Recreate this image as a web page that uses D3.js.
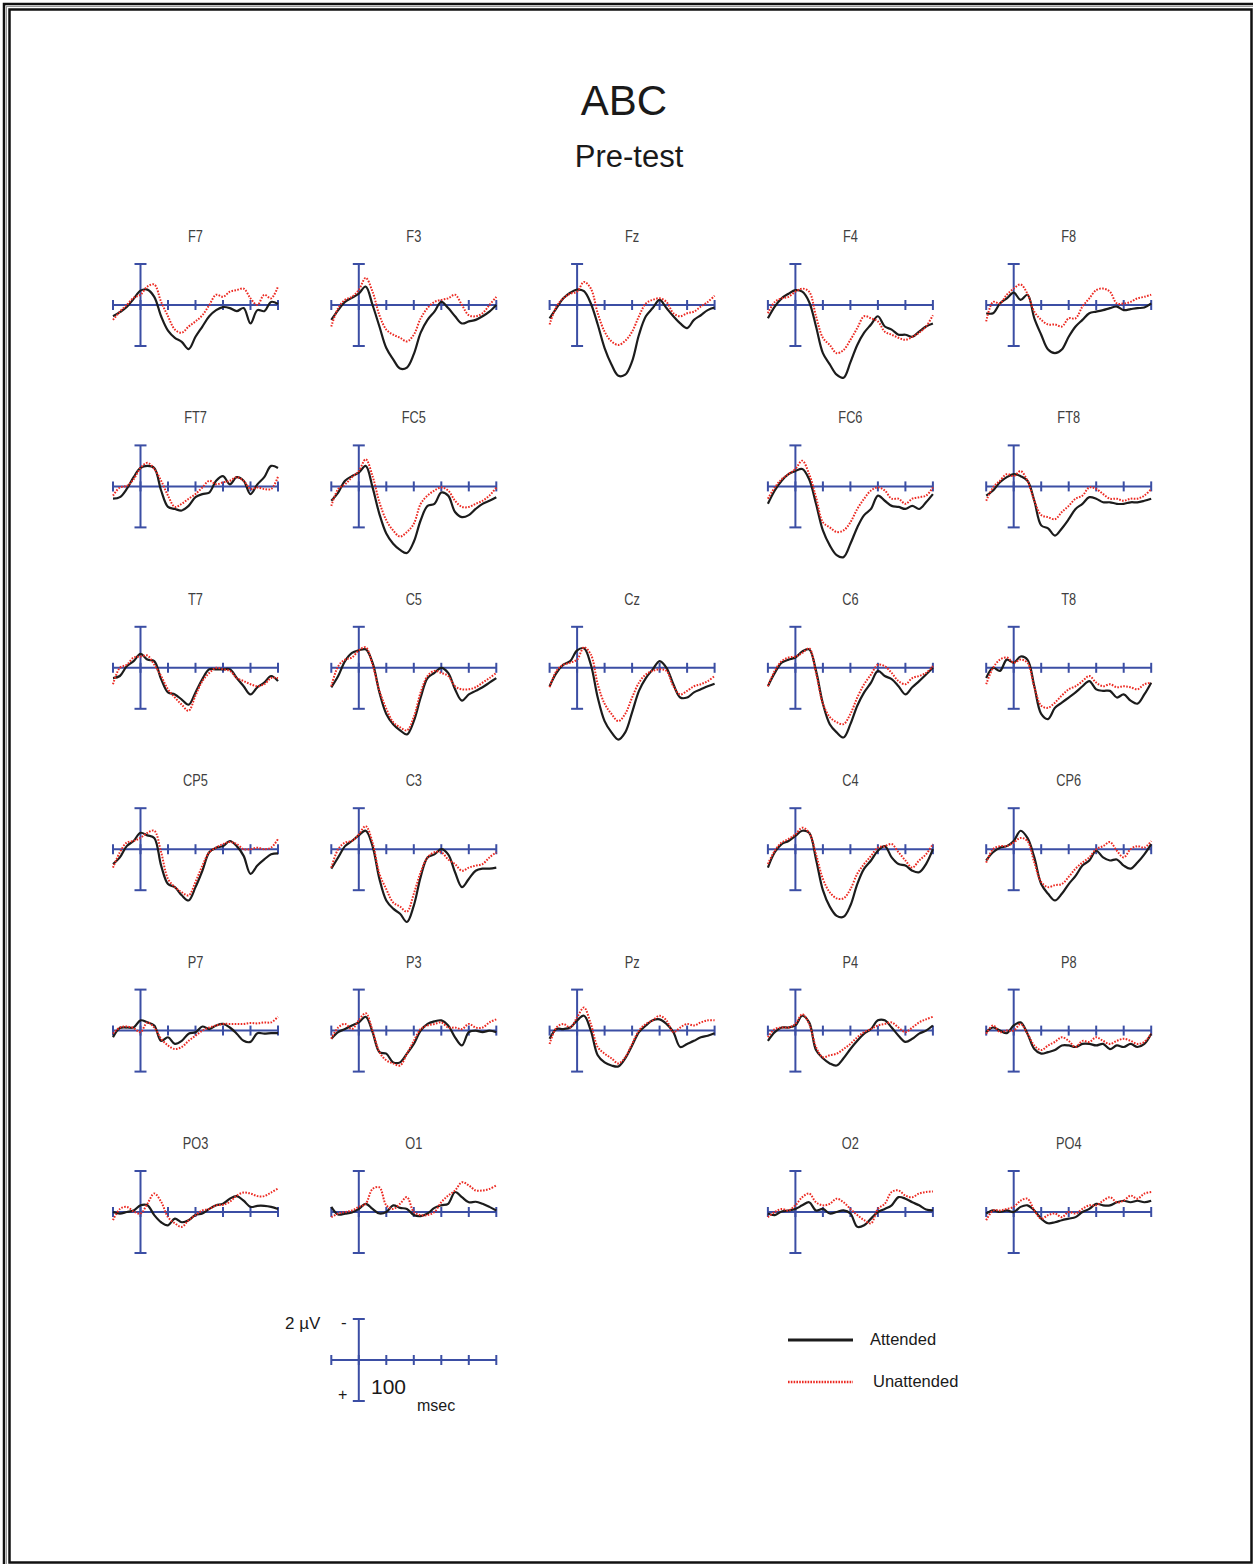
<!DOCTYPE html>
<html>
<head>
<meta charset="utf-8">
<script src="https://cdn.jsdelivr.net/npm/d3@7"></script>
<style>
  body { margin: 0; background: #fff; }
  svg { display: block; font-family: "Liberation Sans", Arial, sans-serif; }
</style>
</head>
<body>
<script>
// time points (ms), one sample every 25 ms
const times = [-100,-75,-50,-25,0,25,50,75,100,125,150,175,200,225,250,275,300,325,350,375,400,425,450,475,500];
const xTicks = [-100,0,100,200,300,400,500];

// grid layout, null = empty cell
const channelRows = [
  ["F7","F3","Fz","F4","F8"],
  ["FT7","FC5",null,"FC6","FT8"],
  ["T7","C5","Cz","C6","T8"],
  ["CP5","C3",null,"C4","CP6"],
  ["P7","P3","Pz","P4","P8"],
  ["PO3","O1",null,"O2","PO4"]
];

// amplitudes in µV (negative plotted up)
const F7_att = [1.1,0.7,0.2,-0.6,-1.4,-1.5,-0.8,1.1,2.5,3.2,3.6,4.3,3.1,2.1,1.1,0.5,0.2,0.3,0.6,0.3,1.8,0.5,0.6,-0.3,-0.1];
const F7_un  = [1.45,0.65,0,-0.7,-1.0,-1.8,-2.0,-0.3,1.1,2.4,2.7,2.1,1.6,1.0,0,-1.0,-0.8,-1.3,-1.45,-1.6,-0.65,0,-1.0,-0.65,-1.8];
const F3_att = [1.45,0.5,-0.3,-0.7,-1.1,-1.8,0,2.1,4.2,5.3,6.2,6.1,4.8,2.7,1.45,0.65,-0.3,0.3,1.1,1.8,1.6,1.45,1.1,0.65,0];
const F3_un  = [2.1,0.3,-0.5,-0.8,-1.45,-2.65,-1.3,1.0,2.4,2.9,3.2,3.55,2.9,1.3,0.3,-0.3,-0.5,-0.65,-1.0,0,1.0,1.1,0.8,0,-0.8];
const Fz_att = [1.3,0.3,-0.65,-1.2,-1.5,-1.35,-0.15,1.9,4.2,5.8,6.9,6.8,5.5,2.9,1.1,0.3,-0.5,0.3,1.1,1.8,2.25,1.45,1.0,0.5,0.25];
const Fz_un  = [1.9,0.15,-0.65,-1.1,-1.3,-2.25,-1.6,0.8,2.6,3.55,3.9,3.5,2.6,1.1,-0.15,-0.5,-0.65,-0.3,0.8,1.1,0.8,0.65,0.15,-0.3,-0.9];
const F4_att = [1.3,0.15,-0.65,-1.1,-1.45,-1.3,-0.3,2.1,4.7,5.8,6.8,7.1,5.6,3.9,2.7,1.9,1.1,2.1,2.4,2.9,2.9,3.1,2.6,2.1,1.8];
const F4_un  = [0.8,-0.3,-0.65,-0.8,-1.3,-1.6,-1.3,1.1,3.2,3.9,4.7,4.4,3.4,2.25,1.1,1.3,1.6,2.6,2.9,3.2,3.4,3.1,2.7,2.1,1.0];
const F8_att = [0.8,0.8,-0.15,-0.65,-1.2,-0.5,-1.0,1.3,2.9,4.35,4.7,4.35,3.1,2.1,1.45,0.8,0.65,0.5,0.3,0.15,0.5,0.4,0.3,0.25,-0.15];
const F8_un  = [1.6,-0.3,-0.15,-1.0,-1.6,-2.0,-1.1,0.65,1.45,1.9,1.9,2.1,1.3,1.3,0.15,-0.65,-1.45,-1.6,-1.3,-0.15,-0.15,-0.3,-0.65,-0.8,-1.0];

const FT7_att = [1.2,1.05,0.25,-0.9,-1.8,-2.0,-1.8,0.4,2.0,2.2,2.35,1.9,1.05,0.75,0.6,-0.55,-1.0,-0.2,-0.9,-0.55,0.75,-0.2,-0.9,-2.0,-1.8];
const FT7_un  = [0.9,0.1,-0.05,-0.7,-1.8,-2.3,-1.7,-0.55,0.9,2.0,1.7,1.2,0.75,0.1,-0.55,-0.2,-0.4,-0.55,-0.9,-0.55,0.25,0.1,0.25,0.25,-0.95];
const FC5_att = [1.4,0.6,-0.55,-1.0,-1.35,-2.0,0.1,2.7,4.6,5.6,6.2,6.5,5.4,3.3,1.9,1.7,0.6,0.9,2.5,3.0,2.8,2.2,1.7,1.4,1.05];
const FC5_un  = [1.9,0.25,-0.2,-0.9,-1.5,-2.65,-1.0,1.55,3.3,4.3,4.9,4.45,3.65,1.7,0.9,0.4,0.1,0.4,1.4,2.0,2.0,1.7,1.4,0.9,0.1];
const FC6_att = [1.7,0.4,-0.55,-1.2,-1.5,-1.7,-0.7,1.7,4.3,5.75,6.7,6.9,5.6,4.0,2.8,2.2,0.9,1.4,1.9,2.0,2.2,1.9,2.2,1.55,0.75];
const FC6_un  = [1.2,0.1,-0.7,-1.2,-1.7,-2.5,-1.2,1.05,3.5,4.0,4.45,4.3,3.5,2.2,1.2,0.4,0.1,0.4,1.2,1.2,1.7,1.2,1.05,0.9,0.1];
const FT8_att = [0.9,0.4,-0.4,-0.9,-1.2,-1.0,-0.55,1.4,3.8,4.1,4.8,4.1,3.2,2.2,1.7,1.05,1.2,1.55,1.55,1.7,1.7,1.55,1.55,1.4,1.2];
const FT8_un  = [1.4,0.1,-0.55,-1.2,-1.0,-1.5,-0.55,1.4,2.8,3.0,3.2,2.5,1.9,1.2,0.9,0.1,0.25,0.75,1.2,1.2,1.4,1.2,1.2,0.9,0.25];

const T7_att = [1.0,0.8,-0.15,-0.65,-1.35,-0.8,-0.65,1.1,2.4,2.6,3.1,3.6,2.4,1.1,0.15,0.15,0.15,0.15,1.0,1.8,2.6,1.9,1.45,0.8,1.3];
const T7_un  = [1.6,0,-0.3,-1.0,-1.1,-1.2,-0.3,0.8,2.1,2.9,3.6,4.2,2.7,1.3,0.5,0,0.15,0.3,1.0,1.3,1.6,1.8,1.6,1.0,1.0];
const C5_att = [1.9,0.8,-0.65,-1.45,-1.7,-1.8,-0.5,2.4,4.5,5.5,6.1,6.5,5.2,2.9,1.0,0.5,0,0.5,2.1,3.2,2.6,2.25,1.9,1.45,1.0];
const C5_un  = [1.8,-0.15,-0.8,-1.0,-1.7,-2.0,-0.3,2.25,4.0,5.3,5.8,6.1,4.8,2.4,0.8,0.3,0.5,0.8,1.8,2.1,2.1,1.9,1.45,1.0,0.5];
const Cz_att = [1.8,0.5,-0.3,-0.65,-1.7,-1.9,-0.3,2.9,5.2,6.3,7.0,6.3,4.35,2.25,1.0,0.15,-0.65,0,1.6,2.9,2.9,2.4,2.1,1.8,1.55];
const Cz_un  = [1.9,0.3,-0.3,-0.5,-0.8,-2.0,-1.3,1.6,3.5,4.5,5.2,4.5,2.9,1.45,0.65,0.3,0.15,0.3,1.8,2.6,2.25,1.8,1.6,1.3,0.8];
const C6_att = [1.8,0.5,-0.5,-0.8,-1.0,-1.6,-1.8,0.3,3.5,5.5,6.3,6.8,5.5,3.7,2.4,1.45,0.3,0.8,1.1,1.8,2.6,1.9,1.3,0.65,0];
const C6_un  = [1.8,0.3,-0.65,-1.0,-1.1,-1.45,-1.9,0.5,3.5,4.8,5.3,5.5,4.5,2.9,1.6,0.65,-0.3,-0.15,0.5,1.3,1.6,1.0,0.8,0.5,-0.15];
const T8_att = [1.0,0,0.3,-0.8,-0.5,-1.1,-0.8,1.8,4.5,5.0,3.9,3.4,2.9,2.4,1.8,1.3,2.1,2.25,2.25,2.9,2.6,3.2,3.5,2.6,1.45];
const T8_un  = [1.6,0,-0.8,-1.0,-0.5,-0.8,-0.5,1.9,3.7,3.9,3.4,2.7,2.1,1.8,1.3,0.8,1.45,1.8,1.6,1.9,1.8,1.9,2.1,1.6,1.45];

const CP5_att = [1.45,0.8,-0.3,-0.8,-1.6,-1.35,-1.1,1.6,3.4,3.7,4.5,5.0,3.7,2.1,0.3,-0.15,-0.3,-0.8,-0.3,0.65,2.4,1.6,1.0,0.5,0.4];
const CP5_un  = [1.8,0.3,-0.65,-0.8,-1.1,-1.6,-1.8,0.3,2.9,3.7,4.2,4.5,3.2,1.6,0.3,-0.15,-0.5,-0.7,-0.5,0,0,-0.15,0,-0.15,-1.0];
const C3_att = [1.9,0.8,-0.3,-0.8,-1.35,-1.8,-0.3,2.9,5.0,5.8,6.3,7.1,5.5,2.7,0.8,0.5,0,0.5,2.25,3.7,2.9,2.1,1.9,1.9,1.8];
const C3_un  = [1.8,0,-0.65,-0.8,-1.45,-2.25,-0.65,2.4,3.9,5.2,5.6,6.1,4.35,2.25,0.8,0.3,0.3,1.0,1.45,2.1,1.8,1.6,1.45,0.8,0.3];
const C4_att = [1.8,0.3,-0.5,-0.8,-1.3,-1.8,-1.6,1.0,4.0,5.6,6.5,6.6,5.5,3.4,1.9,1.1,0.15,-0.3,0.8,1.45,1.6,2.1,2.25,1.45,0];
const C4_un  = [1.45,0.15,-0.65,-1.0,-1.45,-2.1,-1.6,0.5,2.9,4.2,4.8,4.8,3.9,2.4,1.45,0.65,-0.15,-0.3,-0.5,0.3,1.1,1.8,1.1,0.5,-0.5];
const CP6_att = [1.1,0.3,-0.15,-0.3,-0.8,-1.8,-1.1,0.8,3.4,4.35,5.0,4.35,3.4,2.6,1.6,1.1,0.15,0.8,1.1,1.0,1.6,1.9,1.3,0.5,-0.5];
const CP6_un  = [1.3,0,-0.3,-0.3,-0.65,-1.1,-0.8,1.3,3.2,3.7,3.5,3.4,2.7,1.9,1.3,0.8,0,-0.3,-0.7,0.15,0.8,0,-0.3,-0.15,-0.8];

const P7_att = [0.65,-0.25,-0.3,-0.3,-1.0,-0.8,-0.5,1.0,0.65,1.3,1.0,0.3,0.15,-0.4,-0.15,-0.5,-0.65,-0.3,0.3,1.0,1.1,0.25,0.3,0.25,0.25];
const P7_un  = [0.3,-0.3,-0.4,-0.25,0.15,-0.8,-0.3,0.8,1.45,1.8,1.6,1.0,0.5,0,-0.3,-0.5,-0.65,-0.65,-0.65,-0.65,-0.75,-0.7,-0.8,-0.8,-1.35];
const P3_att = [0.8,0.15,-0.15,-0.5,-0.8,-1.35,0.15,2.1,2.25,3.1,3.1,2.25,1.3,0,-0.65,-0.9,-1.0,-0.5,0.65,1.45,0.15,0,0.15,0,0.15];
const P3_un  = [0.8,-0.3,-0.65,-0.15,-1.0,-1.7,0,2.1,2.9,3.2,3.4,2.25,1.0,-0.15,-0.5,-0.65,-0.8,-0.3,-0.3,-0.15,-0.65,-0.3,-0.3,-0.8,-1.1];
const Pz_att = [0.8,-0.15,-0.15,-0.3,-1.0,-1.45,0,2.4,3.1,3.4,3.5,2.7,1.45,0.15,-0.5,-1.0,-1.1,-0.65,0.15,1.6,1.3,1.0,0.65,0.5,0.25];
const Pz_un  = [1.3,-0.3,-0.65,-0.3,-1.3,-2.25,-0.65,1.6,2.25,2.7,3.2,2.6,1.3,0,-0.65,-1.0,-1.45,-1.0,0.15,-0.3,-0.65,-0.5,-0.8,-1.0,-1.0];
const P4_att = [1.0,0.15,-0.3,-0.3,-0.5,-1.45,-0.8,1.9,2.7,3.2,3.4,2.7,1.8,1.0,0.3,-0.15,-1.0,-1.0,-0.3,0.5,1.1,0.8,0.3,0,-0.5];
const P4_un  = [0.65,-0.15,-0.3,-0.3,-0.65,-1.6,-0.65,1.6,2.6,2.4,2.25,1.8,1.3,0.65,0.15,-0.15,-0.5,-0.65,-0.8,-0.3,0.15,-0.3,-0.8,-1.1,-1.35];
const P8_att = [0.15,-0.3,0,0.25,-0.5,-0.8,0.3,1.8,2.25,2.1,1.9,1.45,1.45,1.6,1.3,1.3,1.45,1.3,1.8,1.45,1.6,1.3,1.6,1.3,0.3];
const P8_un  = [0.3,-0.5,0.15,0,0,-0.65,0.3,1.45,1.9,1.45,1.1,0.65,1.0,1.6,1.0,1.1,0.65,1.0,1.3,1.0,0.8,1.0,1.3,1.1,0.3];

const PO3_att = [0,0.15,0,-0.15,-0.65,-0.65,0.3,1.0,1.3,0.65,1.0,0.8,0.3,0.15,-0.3,-0.65,-0.8,-1.3,-1.55,-1.1,-0.5,-0.6,-0.6,-0.5,-0.3];
const PO3_un  = [0.8,-0.3,-0.5,-0.05,0.15,-0.8,-1.8,-1.0,0.5,1.1,1.45,0.8,0.3,-0.15,-0.3,-0.65,-0.7,-1.0,-1.6,-1.9,-1.8,-1.55,-1.55,-1.9,-2.3];
const O1_att = [-0.5,0.25,0.15,0.05,-0.3,-0.8,-0.3,0.15,0,-0.65,-0.4,-0.3,0.3,0.4,0.15,-0.4,-0.65,-0.8,-1.95,-1.45,-0.95,-1.0,-0.8,-0.5,-0.15];
const O1_un  = [0.5,0.15,0,-0.15,-0.5,-0.8,-2.25,-2.4,-0.65,-0.3,-0.8,-1.45,0,0.3,0.3,0,-0.95,-1.6,-2.1,-2.9,-2.6,-2.1,-2.1,-2.25,-2.6];
const O2_att = [0.15,0.3,-0.05,-0.15,-0.3,-0.65,-0.95,-0.15,-0.3,0.15,0,-0.15,0.15,1.45,1.3,0.65,0,-0.3,-0.65,-1.45,-1.3,-0.95,-0.65,-0.25,-0.15];
const O2_un  = [0.5,0,-0.3,-0.15,-0.65,-1.45,-1.8,-0.95,-0.65,-0.8,-1.3,-0.95,-0.3,0.3,0.8,1.1,-0.3,-0.8,-1.95,-2.1,-1.6,-1.45,-1.8,-1.95,-2.0];
const PO4_att = [0.15,-0.15,0,-0.15,0,-0.5,-0.65,-0.15,0.65,1.1,1.0,0.8,0.65,0.5,0,-0.3,-0.8,-0.65,-0.65,-0.95,-1.1,-0.95,-1.1,-0.95,-1.1];
const PO4_un  = [0.8,-0.15,-0.15,-0.3,-0.5,-1.1,-1.3,-0.15,0.65,0.3,0.15,0.5,0,0.15,-0.3,-0.65,-0.65,-1.1,-1.45,-0.95,-1.1,-1.6,-1.3,-1.8,-1.95];

const seriesTable = {
  F7:[F7_att,F7_un], F3:[F3_att,F3_un], Fz:[Fz_att,Fz_un], F4:[F4_att,F4_un], F8:[F8_att,F8_un],
  FT7:[FT7_att,FT7_un], FC5:[FC5_att,FC5_un], FC6:[FC6_att,FC6_un], FT8:[FT8_att,FT8_un],
  T7:[T7_att,T7_un], C5:[C5_att,C5_un], Cz:[Cz_att,Cz_un], C6:[C6_att,C6_un], T8:[T8_att,T8_un],
  CP5:[CP5_att,CP5_un], C3:[C3_att,C3_un], C4:[C4_att,C4_un], CP6:[CP6_att,CP6_un],
  P7:[P7_att,P7_un], P3:[P3_att,P3_un], Pz:[Pz_att,Pz_un], P4:[P4_att,P4_un], P8:[P8_att,P8_un],
  PO3:[PO3_att,PO3_un], O1:[O1_att,O1_un], O2:[O2_att,O2_un], PO4:[PO4_att,PO4_un]
};

const WIDTH = 1253;
const HEIGHT = 1564;
const COL_X0 = 113, COL_STEP = 218.3, PANEL_W = 165;
const ROW_Y0 = 305, ROW_STEP = 181.4, HALF_H = 41;
const AXIS_COLOR = "#3b4ea4";
const ATT_COLOR = "#1c1c1c";
const UN_COLOR = "#ec2a22";

const svg = d3.select("body").append("svg")
  .attr("width", WIDTH)
  .attr("height", HEIGHT);

svg.append("rect").attr("width", WIDTH).attr("height", HEIGHT).attr("fill", "#fff");

// double frame
svg.append("rect").attr("x", 4).attr("y", 4).attr("width", WIDTH + 10).attr("height", HEIGHT + 10)
  .attr("fill", "none").attr("stroke", "#111").attr("stroke-width", 2.5);
svg.append("rect").attr("x", 6.5).attr("y", 6.5).attr("width", WIDTH + 10).attr("height", HEIGHT + 10)
  .attr("fill", "none").attr("stroke", "#999").attr("stroke-width", 1);
svg.append("rect").attr("x", 9.5).attr("y", 9.5).attr("width", 1242).attr("height", 1553)
  .attr("fill", "none").attr("stroke", "#111").attr("stroke-width", 2.5);

// titles
svg.append("text").attr("x", 624).attr("y", 115).attr("text-anchor", "middle")
  .attr("font-size", 42).attr("fill", "#1a1a1a").text("ABC");
svg.append("text").attr("x", 629).attr("y", 167).attr("text-anchor", "middle")
  .attr("font-size", 31).attr("fill", "#1a1a1a").text("Pre-test");

function drawAxes(g, x, y) {
  const ax = g.append("g").attr("stroke", AXIS_COLOR).attr("stroke-width", 2).attr("fill", "none");
  ax.append("line").attr("x1", x(-100)).attr("x2", x(500)).attr("y1", y(0)).attr("y2", y(0));
  ax.selectAll("line.tick").data(xTicks).enter().append("line").attr("class", "tick")
    .attr("x1", d => x(d)).attr("x2", d => x(d))
    .attr("y1", y(0) - 5).attr("y2", y(0) + 5);
  ax.append("line").attr("x1", x(0)).attr("x2", x(0)).attr("y1", y(-4)).attr("y2", y(4));
  ax.selectAll("line.cap").data([-4, 4]).enter().append("line").attr("class", "cap")
    .attr("x1", x(0) - 6).attr("x2", x(0) + 6)
    .attr("y1", d => y(d)).attr("y2", d => y(d));
}

channelRows.forEach((row, r) => {
  row.forEach((name, c) => {
    if (!name) return;
    const x0 = COL_X0 + COL_STEP * c;
    const axisY = ROW_Y0 + ROW_STEP * r;
    const x = d3.scaleLinear().domain([-100, 500]).range([x0, x0 + PANEL_W]);
    const y = d3.scaleLinear().domain([-4, 4]).range([axisY - HALF_H, axisY + HALF_H]);
    const g = svg.append("g").attr("class", "panel");

    g.append("text")
      .attr("transform", `translate(${x(200)},${axisY - 63}) scale(0.8,1)`)
      .attr("text-anchor", "middle").attr("font-size", 16).attr("fill", "#404040")
      .text(name);

    drawAxes(g, x, y);

    const line = d3.line()
      .x((d, i) => x(times[i]))
      .y(d => y(d))
      .curve(d3.curveCatmullRom.alpha(0.5));

    const [att, un] = seriesTable[name];
    g.append("path").datum(att).attr("d", line)
      .attr("fill", "none").attr("stroke", ATT_COLOR).attr("stroke-width", 2.2);
    g.append("path").datum(un).attr("d", line)
      .attr("fill", "none").attr("stroke", UN_COLOR).attr("stroke-width", 2)
      .attr("stroke-dasharray", "1.6,1.4");
  });
});

// scale bar
(function() {
  const x0 = COL_X0 + COL_STEP;
  const axisY = 1360;
  const x = d3.scaleLinear().domain([-100, 500]).range([x0, x0 + PANEL_W]);
  const y = d3.scaleLinear().domain([-4, 4]).range([axisY - HALF_H, axisY + HALF_H]);
  const g = svg.append("g");
  drawAxes(g, x, y);
  g.append("text").attr("x", 285).attr("y", 1329).attr("font-size", 17).attr("fill", "#1a1a1a").text("2 µV");
  g.append("text").attr("x", 341).attr("y", 1328).attr("font-size", 17).attr("fill", "#1a1a1a").text("-");
  g.append("text").attr("x", 338).attr("y", 1400).attr("font-size", 16).attr("fill", "#1a1a1a").text("+");
  g.append("text").attr("x", 371).attr("y", 1394).attr("font-size", 21).attr("fill", "#1a1a1a").text("100");
  g.append("text").attr("x", 417).attr("y", 1411).attr("font-size", 16).attr("fill", "#1a1a1a").text("msec");
})();

// legend
const legendItems = [
  { label: "Attended", color: ATT_COLOR, dash: null, width: 3.2, y: 1340, tx: 870 },
  { label: "Unattended", color: UN_COLOR, dash: "1.6,1.2", width: 2.5, y: 1382, tx: 873 }
];
const lg = svg.append("g");
legendItems.forEach(d => {
  lg.append("line").attr("x1", 788).attr("x2", 853).attr("y1", d.y).attr("y2", d.y)
    .attr("stroke", d.color).attr("stroke-width", d.width)
    .attr("stroke-dasharray", d.dash);
  lg.append("text").attr("x", d.tx).attr("y", d.y + 5).attr("font-size", 16.5)
    .attr("fill", "#1a1a1a").text(d.label);
});
</script>
</body>
</html>
